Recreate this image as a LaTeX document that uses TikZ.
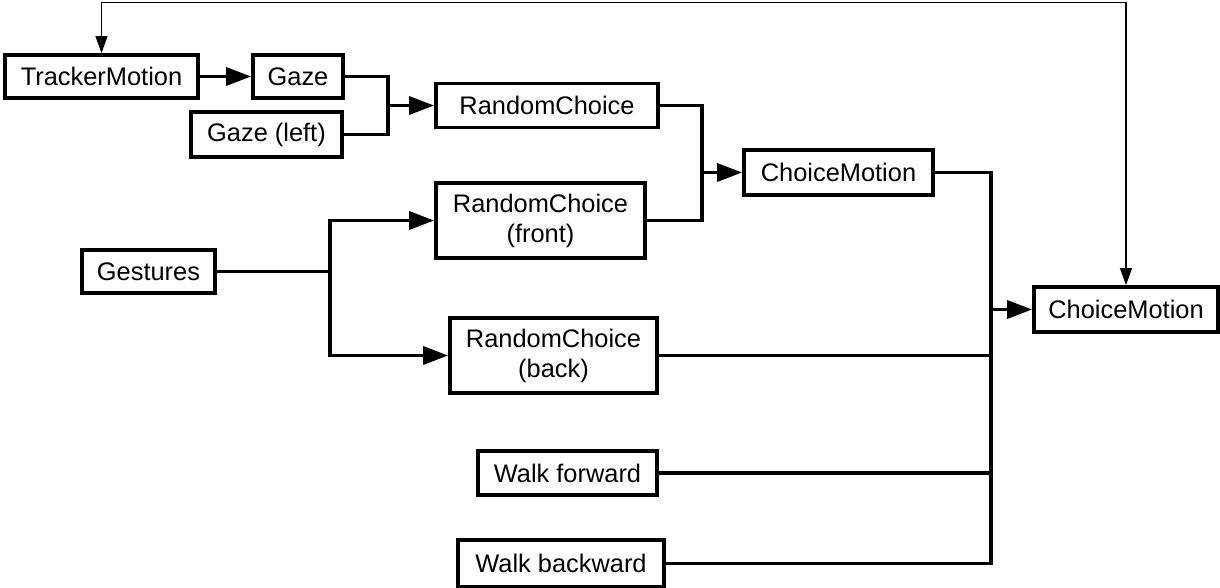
\documentclass[tikz,border=0pt]{standalone}
\usepackage{fontspec}
\setmainfont{Liberation Sans}
\usetikzlibrary{arrows.meta}
\begin{document}
\begin{tikzpicture}[x=0.5pt,y=-0.5pt,
 box/.style={draw, line width=1.9pt, inner sep=0pt, align=center, font=\fontsize{12.7}{15}\selectfont},
 wire/.style={line width=1.7pt},
 arr/.style={wire, -{Triangle[length=12.5pt,width=9pt]}},
 fb/.style={line width=0.6pt, {Triangle[length=8.5pt,width=6pt]}-{Triangle[length=8.5pt,width=6pt]}}]
\useasboundingbox (0,0) rectangle (1220,588);
\node[box, minimum width=96.5pt, minimum height=21.5pt] (tm) at (101.5,76.5) {TrackerMotion};
\node[box, minimum width=45pt, minimum height=21.5pt] (gaze) at (298,76.5) {Gaze};
\node[box, minimum width=75.5pt, minimum height=22.5pt] (gl) at (266.5,134.5) {Gaze (left)};
\node[box, minimum width=111pt, minimum height=22pt] (rc1) at (547,105.5) {RandomChoice};
\node[box, minimum width=94.5pt, minimum height=22.5pt] (cm1) at (838.5,172.5) {ChoiceMotion};
\node[box, minimum width=104.5pt, minimum height=37.5pt] (front) at (540.5,220.5) {RandomChoice\\(front)};
\node[box, minimum width=66.5pt, minimum height=21.5pt] (gest) at (148.5,271.5) {Gestures};
\node[box, minimum width=103.5pt, minimum height=37.5pt] (back) at (553.5,355.5) {RandomChoice\\(back)};
\node[box, minimum width=92pt, minimum height=22.5pt] (cm2) at (1126,309.5) {ChoiceMotion};
\node[box, minimum width=89.5pt, minimum height=22pt] (wf) at (567.5,473) {Walk forward};
\node[box, minimum width=103pt, minimum height=23.5pt] (wb) at (561,563.5) {Walk backward};

\coordinate (j1) at (388,105.5);
\coordinate (j2) at (702,172.5);
\coordinate (j3) at (330,271.5);
\coordinate (j4) at (991,309.5);
\coordinate (top) at (600,2.5);

\draw[arr] (tm) -- (gaze);
\draw[wire] (gaze.east) -| (j1);
\draw[wire] (gl.east) -| (j1);
\draw[arr] (j1) -- (j1 -| rc1.west);

\draw[wire] (rc1.east) -| (j2);
\draw[wire] (front.east) -| (j2);
\draw[arr] (j2) -- (j2 -| cm1.west);

\draw[wire] (gest.east) -- (j3);
\draw[arr] (j3) |- (front.west);
\draw[arr] (j3) |- (back.west);

\draw[wire] (cm1.east) -| (j4);
\draw[wire] (back.east) -| (j4);
\draw[wire] (wf.east) -| (j4);
\draw[wire] (wb.east) -| (j4);
\draw[arr] (j4) -- (cm2.west);

\draw[fb] (tm.north) |- (top) -| (cm2.north);
\end{tikzpicture}
\end{document}
